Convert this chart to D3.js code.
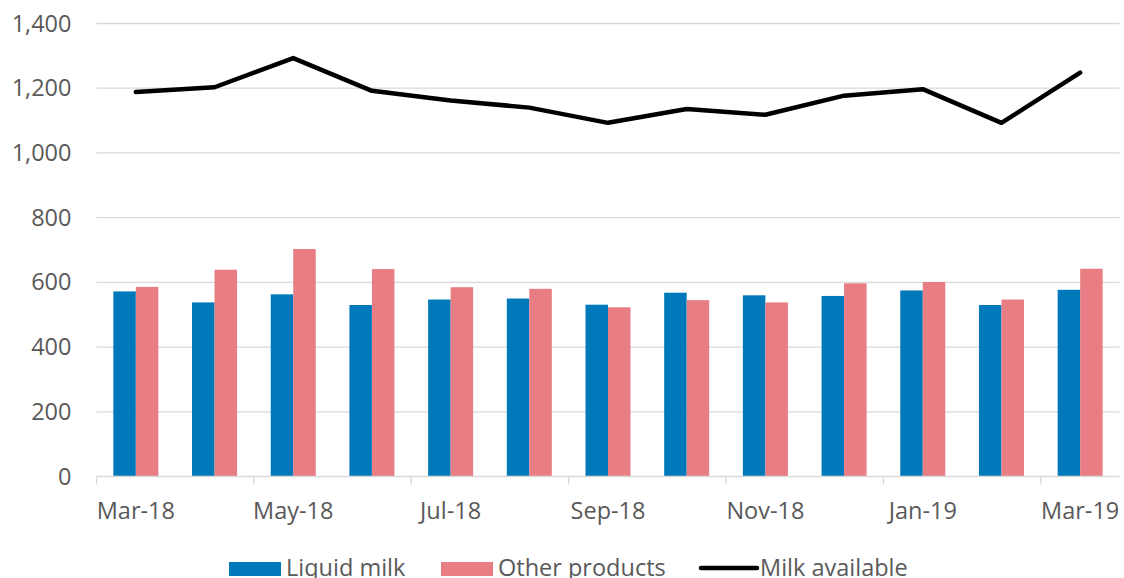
<!DOCTYPE html>
<html>
<head>
<meta charset="utf-8">
<script src="https://cdn.jsdelivr.net/npm/d3@7"></script>
<style>
  body { margin: 0; background: #fff; }
  text { font-family: "Open Sans", sans-serif; fill: #595959; }
</style>
</head>
<body>
<div id="chart"></div>
<script>
// data
const months = ["Mar-18", "Apr-18", "May-18", "Jun-18", "Jul-18", "Aug-18", "Sep-18",
                "Oct-18", "Nov-18", "Dec-18", "Jan-19", "Feb-19", "Mar-19"];
const liquidMilk    = [572, 538, 563, 530, 547, 550, 531, 568, 560, 558, 575, 530, 577];
const otherProducts = [586, 639, 703, 641, 585, 580, 523, 545, 538, 597, 601, 547, 642];
const milkAvailable = [1188, 1203, 1293, 1192, 1162, 1140, 1093, 1136, 1118, 1177, 1197, 1093, 1248];
const yTicks = [0, 200, 400, 600, 800, 1000, 1200, 1400];
const seriesNames = ["Liquid milk", "Other products", "Milk available"];
const colors = { "Liquid milk": "#0079BA", "Other products": "#E87D83", "Milk available": "#000000" };

const W = 1124, H = 578;
const margin = { top: 23.5, right: 4.5, bottom: 101.5, left: 96.5 };
const width = W - margin.left - margin.right;
const height = H - margin.top - margin.bottom;
const fs = "23.5px";

const svg = d3.select("#chart").append("svg")
  .attr("width", W).attr("height", H);
const g = svg.append("g")
  .attr("transform", `translate(${margin.left},${margin.top})`);

const x = d3.scaleBand().domain(months).range([0, width]).padding(0);
const xSub = d3.scaleBand().domain(["Liquid milk", "Other products"])
  .range([x.bandwidth() * 0.214, x.bandwidth() * 0.786]).padding(0);
const y = d3.scaleLinear().domain([0, 1400]).range([height, 0]);

// gridlines
g.selectAll(".grid").data(yTicks.filter(d => d > 0)).enter().append("line")
  .attr("x1", 0).attr("x2", width)
  .attr("y1", d => y(d)).attr("y2", d => y(d))
  .attr("stroke", "#d9d9d9").attr("stroke-width", 1.3);

// y axis labels
const yAxis = g.append("g")
  .call(d3.axisLeft(y).tickValues(yTicks).tickSize(0).tickPadding(25).tickFormat(d3.format(",")));
yAxis.select(".domain").remove();
yAxis.selectAll("text").style("font-size", fs).attr("fill", "#595959");

// bars
const rows = months.map((m, i) => ({ month: m, "Liquid milk": liquidMilk[i], "Other products": otherProducts[i] }));
g.selectAll(".grp").data(rows).enter().append("g")
  .attr("transform", d => `translate(${x(d.month)},0)`)
  .selectAll("rect")
  .data(d => ["Liquid milk", "Other products"].map(k => ({ key: k, value: d[k] })))
  .enter().append("rect")
  .attr("x", d => xSub(d.key))
  .attr("width", xSub.bandwidth())
  .attr("y", d => y(d.value))
  .attr("height", d => y(0) - y(d.value))
  .attr("fill", d => colors[d.key]);

// x axis
const xAxis = g.append("g").attr("transform", `translate(0,${height})`);
xAxis.append("line").attr("x1", 0).attr("x2", width)
  .attr("stroke", "#d9d9d9").attr("stroke-width", 1.3);
const labelled = months.filter((m, i) => i % 2 === 0);
xAxis.selectAll(".tk").data(labelled).enter().append("line")
  .attr("x1", d => x(d)).attr("x2", d => x(d))
  .attr("y1", 0).attr("y2", 8)
  .attr("stroke", "#d9d9d9").attr("stroke-width", 1.3);
xAxis.selectAll(".lbl").data(labelled).enter().append("text")
  .attr("x", d => x(d) + x.bandwidth() / 2)
  .attr("y", 42)
  .attr("text-anchor", "middle")
  .style("font-size", fs)
  .text(d => d);

// line
const line = d3.line()
  .x((d, i) => x(months[i]) + x.bandwidth() / 2)
  .y(d => y(d));
g.append("path").datum(milkAvailable)
  .attr("d", line)
  .attr("fill", "none")
  .attr("stroke", colors["Milk available"])
  .attr("stroke-width", 4.5)
  .attr("stroke-linejoin", "round")
  .attr("stroke-linecap", "round");

// legend
const legendX = [229, 441, 700];
const legend = svg.append("g");
seriesNames.forEach((name, i) => {
  const lg = legend.append("g").attr("transform", `translate(${legendX[i]},568)`);
  if (i < 2) {
    lg.append("rect").attr("x", 0).attr("y", -6).attr("width", 52).attr("height", 14)
      .attr("fill", colors[name]);
  } else {
    lg.append("line").attr("x1", 1).attr("x2", 57).attr("y1", 0).attr("y2", 0)
      .attr("stroke", colors[name]).attr("stroke-width", 4.5).attr("stroke-linecap", "round");
  }
  lg.append("text").attr("x", i < 2 ? 57 : 60).attr("y", 8)
    .style("font-size", fs).text(name);
});
</script>
</body>
</html>
